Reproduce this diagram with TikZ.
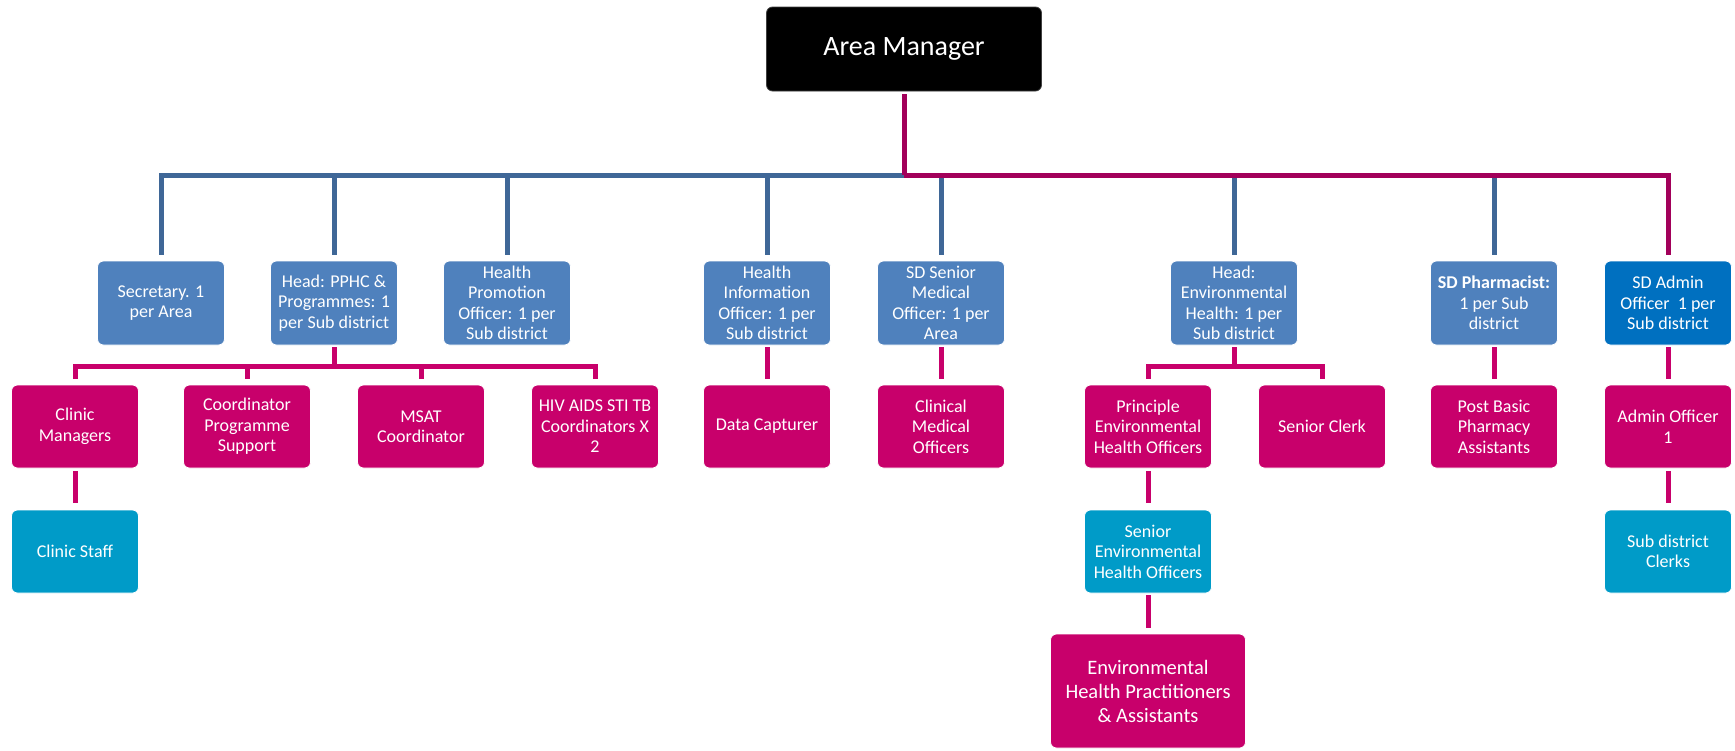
\documentclass[tikz,border=0pt]{standalone}
\usepackage{fontspec}
\setmainfont{Carlito}
\definecolor{hblue}{HTML}{4F81BD}
\definecolor{hadmin}{HTML}{0070C0}
\definecolor{hmag}{HTML}{C8006B}
\definecolor{hcyan}{HTML}{009BC8}
\definecolor{lblue}{HTML}{3F6797}
\definecolor{lmag}{HTML}{A2005A}
\begin{document}
\begin{tikzpicture}[x=1pt,y=-1pt,
  box/.style={rounded corners=6pt, draw=white, line width=0.8pt, minimum width=127pt,
    minimum height=84pt, inner sep=0pt, align=center, text=white,
    font=\fontsize{18}{20.5}\selectfont},
  lone/.style={box, fill=hblue},
  ladmin/.style={box, fill=hadmin},
  magbox/.style={box, fill=hmag, minimum height=83pt},
  cyanbox/.style={box, fill=hcyan, minimum height=83pt},
  bline/.style={draw=lblue, line width=5pt},
  tmline/.style={draw=lmag, line width=5pt},
  mline/.style={draw=hmag, line width=5pt}]
\useasboundingbox (0,0) rectangle (1735,750);

% top
\node[box, fill=black, draw=black!75, minimum width=275pt, minimum height=84pt,
  font=\fontsize{28}{32}\selectfont] (am) at (904,49) {Area Manager};

% level 1
\node[lone] (sec) at (161,303) {Secretary. 1\\per Area};
\node[lone] (pphc) at (334,303) {Head: PPHC \&\\Programmes: 1\\per Sub district};
\node[lone] (hpo) at (507,303) {Health\\Promotion\\Officer: 1 per\\Sub district};
\node[lone] (hio) at (767,303) {Health\\Information\\Officer: 1 per\\Sub district};
\node[lone] (sdsm) at (941,303) {SD Senior\\Medical\\Officer: 1 per\\Area};
\node[lone] (hen) at (1234,303) {Head:\\Environmental\\Health: 1 per\\Sub district};
\node[lone] (sdp) at (1494,303) {\textbf{SD Pharmacist:}\\1 per Sub\\district};
\node[ladmin] (sda) at (1668,303) {SD Admin\\Officer\ \ 1 per\\Sub district};

% level 2
\node[magbox] (cm) at (75,426.5) {Clinic\\Managers};
\node[magbox] (cps) at (247,426.5) {Coordinator\\Programme\\Support};
\node[magbox] (msat) at (421,426.5) {MSAT\\Coordinator};
\node[magbox] (hiv) at (595,426.5) {HIV AIDS STI TB\\Coordinators X\\2};
\node[magbox] (dc) at (767,426.5) {Data Capturer};
\node[magbox] (cmo) at (941,426.5) {Clinical\\Medical\\Officers};
\node[magbox] (peho) at (1148,426.5) {Principle\\Environmental\\Health Officers};
\node[magbox] (sc) at (1322,426.5) {Senior Clerk};
\node[magbox] (pbpa) at (1494,426.5) {Post Basic\\Pharmacy\\Assistants};
\node[magbox] (ao) at (1668,426.5) {Admin Officer\\1};

% level 3
\node[cyanbox] (cs) at (75,551.5) {Clinic Staff};
\node[cyanbox] (seho) at (1148,551.5) {Senior\\Environmental\\Health Officers};
\node[cyanbox] (sdc) at (1668,551.5) {Sub district\\Clerks};

% level 4
\node[magbox, minimum width=195pt, minimum height=114pt,
  font=\fontsize{20.5}{24}\selectfont] (ehp) at (1148,691)
  {Environmental\\Health Practitioners\\\& Assistants};

% coordinates for bars
\coordinate (top) at (904,175);
\coordinate (pbar) at (334,366);
\coordinate (hbar) at (1234,366);

% top-level connectors
\foreach \n in {sec,pphc,hpo,hio}
  \draw[bline, shorten <=6pt] (\n.north) |- (top);
\foreach \n in {sdsm,hen,sdp}
  \draw[bline, shorten <=6pt] (\n.north) -- (\n.north |- top);
\draw[tmline, shorten <=6pt] (sda.north) |- (top);
\draw[tmline, shorten <=3pt] (am.south) -- (top);

% PPHC group
\draw[mline, shorten <=2pt] (pphc.south) -- (pbar);
\foreach \n in {cm,cps,msat,hiv}
  \draw[mline, shorten >=6pt] (pbar) -| (\n.north);

% Environmental group
\draw[mline, shorten <=2pt] (hen.south) -- (hbar);
\foreach \n in {peho,sc}
  \draw[mline, shorten >=6pt] (hbar) -| (\n.north);

% single connectors
\draw[mline, shorten <=2pt, shorten >=6pt] (hio.south) -- (dc.north);
\draw[mline, shorten <=2pt, shorten >=6pt] (sdsm.south) -- (cmo.north);
\draw[mline, shorten <=2pt, shorten >=6pt] (sdp.south) -- (pbpa.north);
\draw[mline, shorten <=2pt, shorten >=6pt] (sda.south) -- (ao.north);
\draw[mline, shorten <=3pt, shorten >=7pt] (cm.south) -- (cs.north);
\draw[mline, shorten <=3pt, shorten >=7pt] (peho.south) -- (seho.north);
\draw[mline, shorten <=3pt, shorten >=7pt] (ao.south) -- (sdc.north);
\draw[mline, shorten <=2pt, shorten >=6pt] (seho.south) -- (ehp.north);
\end{tikzpicture}
\end{document}
